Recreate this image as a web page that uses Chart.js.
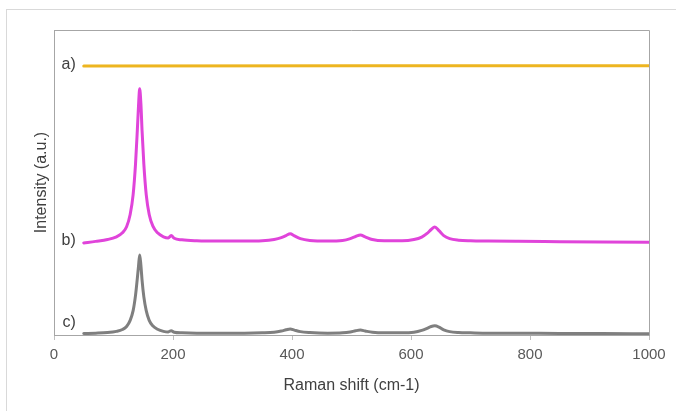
<!DOCTYPE html>
<html>
<head>
<meta charset="utf-8">
<script src="https://cdn.jsdelivr.net/npm/chart.js@4"></script>
<style>
  html, body { margin: 0; padding: 0; width: 676px; height: 411px; overflow: hidden; background: #fff; }
  #frame { position: absolute; left: 6px; top: 9px; width: 720px; height: 460px; border: 1px solid #D9D9D9; }
  #wrap { position: absolute; left: 0; top: 0; width: 676px; height: 411px; }
</style>
</head>
<body>
<div id="frame"></div>
<div id="wrap"><canvas id="c" width="676" height="411"></canvas></div>
<script>
// Raman shift (cm-1)
const ramanShift = [50, 70, 90, 105, 115, 122, 128, 133, 137, 140, 142, 144, 146, 148, 151, 155, 160, 166, 174, 184, 192, 197, 202, 215, 240, 280, 320, 350, 370, 382, 390, 397, 404, 414, 430, 460, 485, 498, 507, 515, 523, 535, 555, 585, 605, 618, 627, 634, 640, 647, 655, 665, 680, 700, 730, 780, 850, 920, 1000];

// a) flat trace
const shiftA = [50, 1000];
const intensityA = [88.2, 88.3];

// b) trace (offset)
const intensityB = [30.2, 30.7, 31.3, 32.2, 33.5, 35.5, 39.5, 46, 56, 67, 75, 80.7, 76, 67, 56, 46, 39.5, 35.8, 33.5, 32.2, 31.8, 32.6, 31.7, 31.2, 30.9, 30.8, 30.8, 30.9, 31.3, 31.9, 32.6, 33.2, 32.5, 31.6, 31.0, 30.8, 31.0, 31.6, 32.3, 32.8, 32.2, 31.3, 30.9, 30.9, 31.3, 32.1, 33.3, 34.6, 35.4, 34.2, 32.6, 31.6, 31.1, 30.9, 30.8, 30.7, 30.6, 30.5, 30.4];

// c) trace
const intensityC = [0.5, 0.6, 0.8, 1.2, 1.8, 2.8, 4.8, 8.0, 13, 18.5, 22.5, 26.2, 23, 18, 12.5, 8, 4.8, 3.0, 1.9, 1.2, 1.0, 1.4, 0.9, 0.7, 0.6, 0.6, 0.6, 0.7, 0.9, 1.3, 1.7, 2.0, 1.6, 1.1, 0.8, 0.6, 0.7, 1.0, 1.4, 1.6, 1.3, 0.9, 0.7, 0.7, 0.9, 1.5, 2.2, 2.8, 3.0, 2.6, 1.7, 1.1, 0.8, 0.7, 0.6, 0.6, 0.5, 0.5, 0.4];

const traceLabels = ['a)', 'b)', 'c)'];
const xTicks = [0, 200, 400, 600, 800, 1000];

const toPoints = (xs, ys) => xs.map((x, i) => ({ x: x, y: ys[i] }));

const labelPlugin = {
  id: 'traceLabels',
  afterDatasetsDraw(chart) {
    const ctx = chart.ctx;
    const xs = chart.scales.x, ys = chart.scales.y;
    ctx.save();
    ctx.font = '16px "Liberation Sans", Arial, sans-serif';
    ctx.fillStyle = '#404040';
    ctx.textAlign = 'right';
    ctx.textBaseline = 'middle';
    const lift = [1, 2, 11];
    chart.data.datasets.forEach((ds, i) => {
      const p = ds.data[0];
      ctx.fillText(traceLabels[i], xs.getPixelForValue(p.x) - 8, ys.getPixelForValue(p.y) - lift[i]);
    });
    // plot frame top/right
    const a = chart.chartArea;
    ctx.strokeStyle = '#A6A6A6';
    ctx.lineWidth = 1;
    ctx.beginPath();
    ctx.moveTo(a.left, a.top + 0.5);
    ctx.lineTo(a.right + 0.5, a.top + 0.5);
    ctx.lineTo(a.right + 0.5, a.bottom);
    ctx.stroke();
    ctx.restore();
  }
};

new Chart(document.getElementById('c'), {
  type: 'line',
  data: {
    datasets: [
      { label: 'a', data: toPoints(shiftA, intensityA), borderColor: '#EDB520', borderWidth: 3 },
      { label: 'b', data: toPoints(ramanShift, intensityB), borderColor: '#E044DA', borderWidth: 3 },
      { label: 'c', data: toPoints(ramanShift, intensityC), borderColor: '#7F7F7F', borderWidth: 3 }
    ]
  },
  options: {
    responsive: false,
    animation: false,
    events: [],
    elements: { point: { radius: 0 }, line: { cubicInterpolationMode: 'monotone', borderCapStyle: 'round' } },
    layout: { padding: { left: 32, top: 30, right: 27, bottom: 0 } },
    plugins: { legend: { display: false }, tooltip: { enabled: false } },
    scales: {
      x: {
        type: 'linear',
        min: 0, max: 1000,
        afterBuildTicks: (s) => { s.ticks = xTicks.map(v => ({ value: v })); },
        afterFit: (s) => { s.height = 76; },
        border: { color: '#A6A6A6', width: 1 },
        grid: { drawOnChartArea: false, drawTicks: true, tickLength: 5, color: '#BFBFBF' },
        ticks: { color: '#595959', padding: 6, maxRotation: 0, callback: (v) => String(v), font: { family: '"Liberation Sans", Arial, sans-serif', size: 15 } },
        title: { display: true, text: 'Raman shift (cm-1)', color: '#404040', padding: { top: 0, bottom: 16 }, font: { family: '"Liberation Sans", Arial, sans-serif', size: 16 } }
      },
      y: {
        type: 'linear',
        min: 0, max: 100,
        afterFit: (s) => { s.width = 22; },
        border: { color: '#A6A6A6', width: 1 },
        grid: { drawOnChartArea: false, drawTicks: false },
        ticks: { display: false },
        title: { display: true, text: 'Intensity (a.u.)', color: '#404040', padding: { top: 0, bottom: 0 }, font: { family: '"Liberation Sans", Arial, sans-serif', size: 16 } }
      }
    }
  },
  plugins: [labelPlugin]
});
</script>
</body>
</html>
